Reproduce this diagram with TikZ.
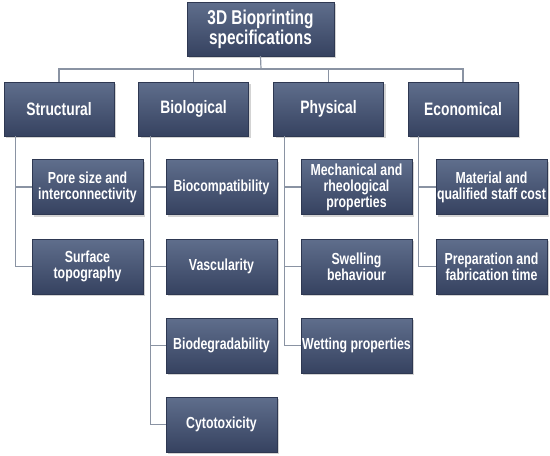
\documentclass[tikz,border=0pt]{standalone}
\usepackage{fontspec}
\newfontfamily\boxfont[FakeStretch=0.77]{Liberation Sans}
\usetikzlibrary{shadows}
\definecolor{boxtop}{HTML}{5F6E8C}
\definecolor{boxbot}{HTML}{364260}
\definecolor{linkgray}{HTML}{8A93A3}

\begin{document}
\begin{tikzpicture}[x=1pt,y=-1pt,
    box/.style={rectangle,draw=boxbot!85!black,line width=0.4pt,top color=boxtop,bottom color=boxbot,
        text=white,align=center,inner sep=1pt,
        drop shadow={opacity=0.35,shadow xshift=2pt,shadow yshift=-2pt}},
    rootbox/.style={box,minimum width=147pt,minimum height=54pt,font=\boxfont\bfseries\fontsize{20}{17.7}\selectfont},
    catbox/.style={box,minimum width=110pt,minimum height=54pt,font=\boxfont\bfseries\fontsize{18}{17}\selectfont},
    itembox/.style={box,minimum width=111pt,minimum height=55pt,font=\boxfont\bfseries\fontsize{16}{16}\selectfont},
    link/.style={draw=linkgray,line width=1.2pt}]
    \useasboundingbox (0,0) rectangle (550,456);
    % root and categories
    \node (spec) [rootbox] at (260.5,29) {3D Bioprinting\\specifications};
    \node (struct) [catbox] at (59,109) {Structural};
    \node (bio) [catbox] at (193.5,109) {Biological};
    \node (phys) [catbox] at (328.5,109) {Physical};
    \node (econ) [catbox] at (463,109) {Economical};
    % items
    \node (pore) [itembox] at (87.5,187) {Pore size and\\interconnectivity};
    \node (surf) [itembox] at (87.5,266.5) {Surface\\topography};
    \node (compat) [itembox] at (221.5,187) {Biocompatibility};
    \node (vasc) [itembox] at (221.5,266.5) {Vascularity};
    \node (degr) [itembox] at (221.5,345.5) {Biodegradability};
    \node (cyto) [itembox] at (221.5,424.5) {Cytotoxicity};
    \node (mech) [itembox] at (356.5,187) {Mechanical and\\rheological\\properties};
    \node (swell) [itembox] at (356.5,266.5) {Swelling\\behaviour};
    \node (wet) [itembox] at (356.5,345.5) {Wetting properties};
    \node (cost) [itembox] at (491.5,187) {Material and\\qualified staff cost};
    \node (prep) [itembox] at (491.5,266.5) {Preparation and\\fabrication time};
    % connectors
    \coordinate (bus) at (261,69);
    \draw [link] (spec.south) -- (bus);
    \draw [link] (bus) -| (struct.north);
    \draw [link] (bus) -| (bio.north);
    \draw [link] (bus) -| (phys.north);
    \draw [link] (bus) -| (econ.north);
    \draw [link] ([xshift=12pt]struct.south west) |- (pore.west);
    \draw [link] ([xshift=12pt]struct.south west) |- (surf.west);
    \draw [link] ([xshift=12pt]bio.south west) |- (compat.west);
    \draw [link] ([xshift=12pt]bio.south west) |- (vasc.west);
    \draw [link] ([xshift=12pt]bio.south west) |- (degr.west);
    \draw [link] ([xshift=12pt]bio.south west) |- (cyto.west);
    \draw [link] ([xshift=11pt]phys.south west) |- (mech.west);
    \draw [link] ([xshift=11pt]phys.south west) |- (swell.west);
    \draw [link] ([xshift=11pt]phys.south west) |- (wet.west);
    \draw [link] ([xshift=11pt]econ.south west) |- (cost.west);
    \draw [link] ([xshift=11pt]econ.south west) |- (prep.west);
\end{tikzpicture}
\end{document}
